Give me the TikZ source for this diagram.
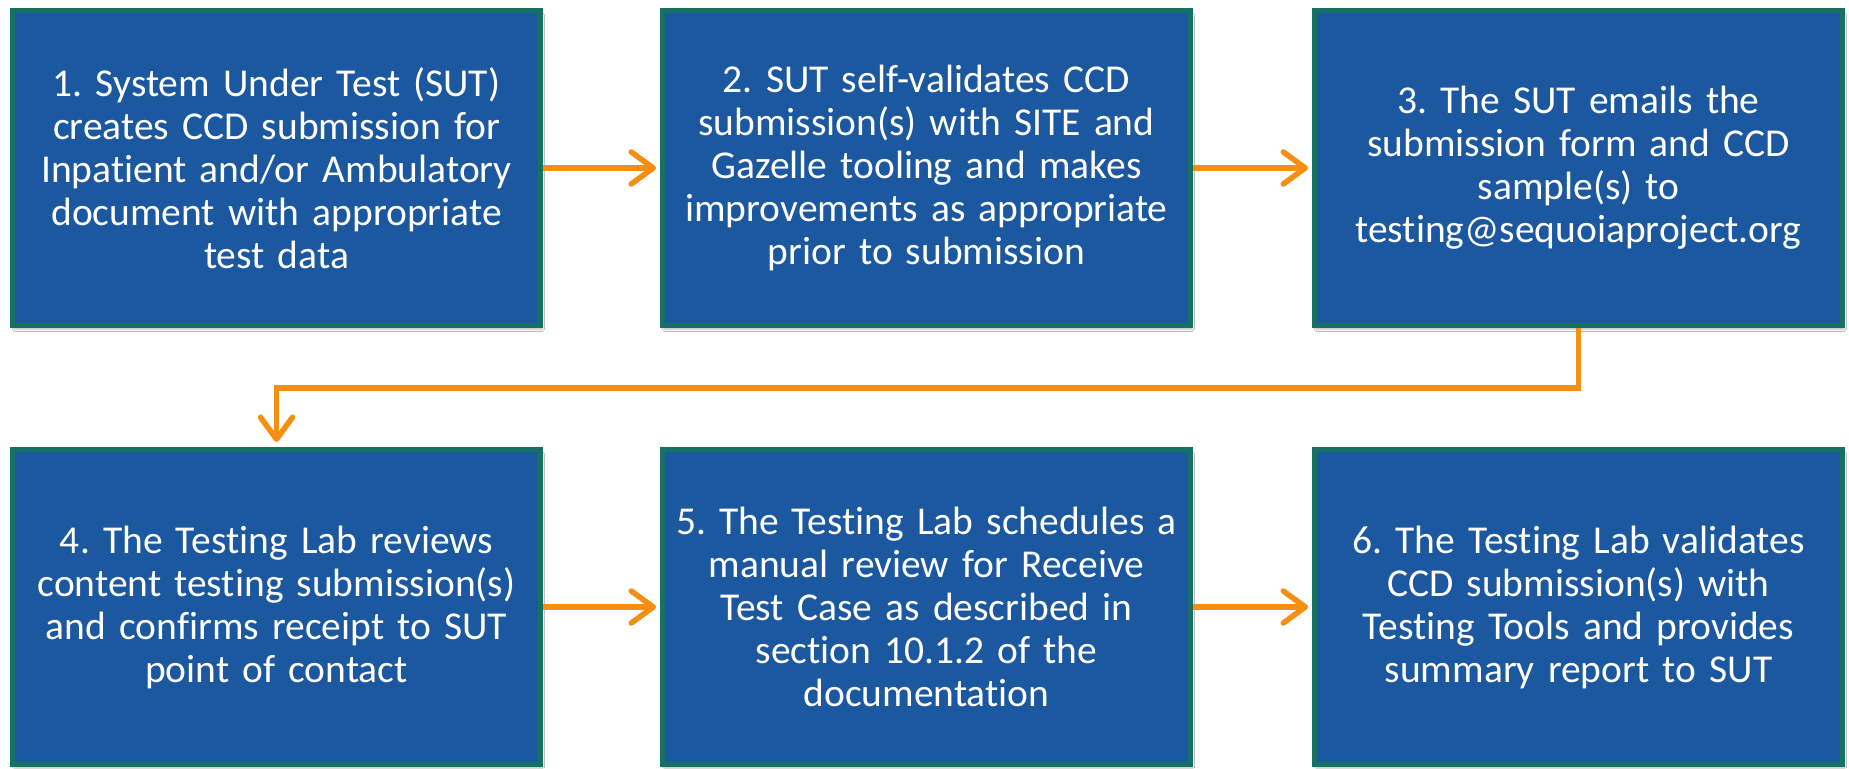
\documentclass[tikz,border=0pt]{standalone}
\usepackage{fontspec}
\setmainfont{Carlito}[Ligatures=NoCommon]
\usetikzlibrary{arrows.meta,shadows.blur}

\definecolor{boxblue}{RGB}{28,88,160}
\definecolor{boxedge}{RGB}{22,112,100}
\definecolor{flowarrow}{RGB}{245,143,18}

\tikzset{
  stepbox/.style={rectangle, fill=boxblue, draw=boxedge, line width=5pt,
    minimum width=528pt, minimum height=315pt, inner sep=0pt, outer sep=2.5pt,
    text=white, text width=524pt, align=center,
    font=\fontsize{39.5}{43}\selectfont,
    blur shadow={shadow xshift=2pt, shadow yshift=-4pt, shadow blur steps=6, shadow opacity=25}},
  flow/.style={draw=flowarrow, line width=5.5pt,
    -{Straight Barb[length=22pt, width=32pt, line width=5.5pt, round]}}
}

\begin{document}
\frenchspacing
\begin{tikzpicture}[x=1pt,y=-1pt]
\useasboundingbox[fill=white] (0,0) rectangle (1849,768);
% top row
\node[stepbox] (sut) at (276.5,168) {1. System Under Test (SUT)\\ creates CCD submission for\\ Inpatient and/or Ambulatory\\ document with appropriate\\ test data};
\node[stepbox] (selfval) at (926.5,168) {2. SUT self-validates CCD\\ submission(s) with SITE and\\ Gazelle tooling and makes\\ improvements as appropriate\\ prior to submission};
\node[stepbox] (email) at (1578.5,168) {3. The SUT emails the\\ submission form and CCD\\ sample(s) to\\ testing@sequoiaproject.org};
% bottom row
\node[stepbox] (review) at (276.5,607) {4. The Testing Lab reviews\\ content testing submission(s)\\ and confirms receipt to SUT\\ point of contact};
\node[stepbox] (schedule) at (926.5,607) {5. The Testing Lab schedules a\\ manual review for Receive\\ Test Case as described in\\ section 10.1.2 of the\\ documentation};
\node[stepbox] (validate) at (1578.5,607) {6. The Testing Lab validates\\ CCD submission(s) with\\ Testing Tools and provides\\ summary report to SUT};
% arrows
\draw[flow, shorten >=4pt] (sut) -- (selfval);
\draw[flow, shorten >=4pt] (selfval) -- (email);
\draw[flow, shorten >=5pt] (email.south) -- ++(0,60) -| (review.north);
\draw[flow, shorten >=4pt] (review) -- (schedule);
\draw[flow, shorten >=4pt] (schedule) -- (validate);
\end{tikzpicture}
\end{document}
